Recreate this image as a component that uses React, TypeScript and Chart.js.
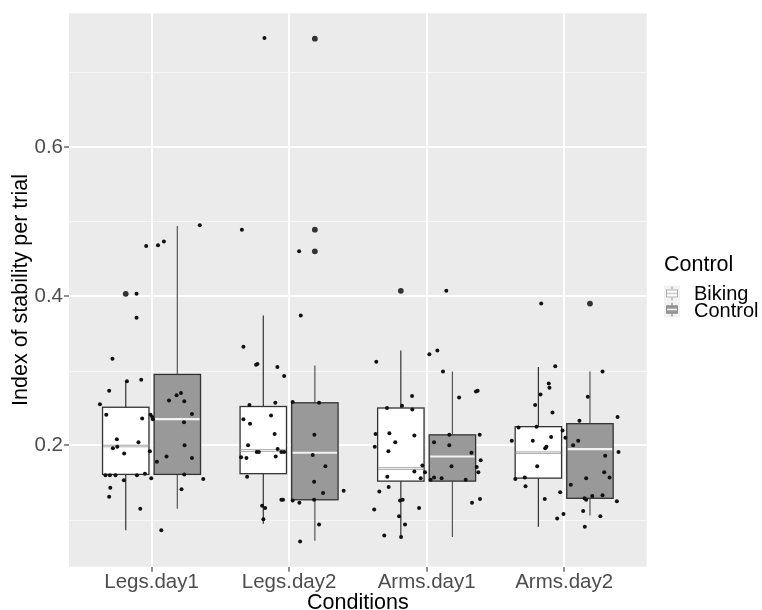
import React, { useEffect, useRef } from "react";
import { Chart, registerables } from "chart.js";

Chart.register(...registerables);

// ---------- data ----------
const conditions = ["Legs.day1", "Legs.day2", "Arms.day1", "Arms.day2"];
const groups = ["Biking", "Control"];
const yTickValues = [0.2, 0.4, 0.6];
const yTickLabels = ["0.2", "0.4", "0.6"];
const yMinorValues = [0.1, 0.3, 0.5, 0.7];

// box statistics, indexed by condition
const bikingLowerWhisker = [0.086, 0.095, 0.077, 0.091];
const bikingQ1 = [0.161, 0.162, 0.152, 0.156];
const bikingMedian = [0.199, 0.193, 0.169, 0.190];
const bikingQ3 = [0.251, 0.252, 0.250, 0.225];
const bikingUpperWhisker = [0.286, 0.374, 0.327, 0.305];
const bikingOutliers = [[0.403], [], [0.407], []];

const controlLowerWhisker = [0.115, 0.072, 0.077, 0.106];
const controlQ1 = [0.161, 0.127, 0.152, 0.129];
const controlMedian = [0.235, 0.190, 0.185, 0.195];
const controlQ3 = [0.295, 0.257, 0.214, 0.229];
const controlUpperWhisker = [0.494, 0.307, 0.299, 0.299];
const controlOutliers = [[], [0.460, 0.489, 0.745], [], [0.390]];

// jittered observations (horizontal jitter in category units, value)
const legsDay1Jitter = [-0.039, 0.047, 0.090, 0.351, -0.109, -0.109, -0.284, -0.179, -0.075, -0.308, -0.375, -0.329, -0.068, -0.252, -0.095, -0.249, -0.281, -0.199, -0.012, 0.182, 0.214, 0.127, 0.238, 0.294, -0.007, 0.005, 0.010, 0.236, 0.240, 0.109, 0.294, 0.039, -0.335, -0.303, -0.262, -0.106, -0.048, -0.201, -0.002, -0.300, -0.308, -0.082, 0.238, 0.376, 0.218, 0.071];
const legsDay1Values = [0.467, 0.468, 0.473, 0.495, 0.403, 0.371, 0.316, 0.286, 0.288, 0.273, 0.255, 0.241, 0.236, 0.208, 0.204, 0.198, 0.196, 0.189, 0.192, 0.267, 0.270, 0.260, 0.259, 0.242, 0.241, 0.238, 0.235, 0.231, 0.200, 0.185, 0.183, 0.178, 0.160, 0.160, 0.160, 0.160, 0.162, 0.153, 0.156, 0.143, 0.131, 0.115, 0.161, 0.155, 0.141, 0.086];

const legsDay2Jitter = [-0.179, -0.343, 0.073, 0.085, -0.332, -0.230, -0.240, -0.085, -0.036, 0.026, -0.100, -0.288, 0.218, -0.131, -0.332, -0.284, -0.105, 0.184, -0.298, -0.083, -0.235, -0.220, -0.056, -0.036, -0.349, -0.310, -0.097, 0.172, 0.264, -0.305, 0.182, 0.247, 0.397, -0.056, -0.044, 0.026, 0.075, 0.182, -0.196, -0.174, -0.187, 0.218, 0.080];
const legsDay2Values = [0.746, 0.489, 0.460, 0.374, 0.332, 0.309, 0.308, 0.305, 0.293, 0.258, 0.257, 0.254, 0.257, 0.240, 0.235, 0.229, 0.215, 0.214, 0.200, 0.195, 0.191, 0.191, 0.191, 0.191, 0.184, 0.183, 0.185, 0.187, 0.172, 0.158, 0.151, 0.136, 0.139, 0.127, 0.127, 0.126, 0.123, 0.127, 0.119, 0.116, 0.101, 0.094, 0.071];

const armsDay1Jitter = [0.143, -0.366, 0.020, 0.078, 0.119, -0.106, 0.236, 0.359, 0.371, -0.288, -0.179, -0.104, -0.371, -0.271, -0.089, -0.228, -0.377, -0.278, 0.054, 0.165, 0.165, 0.386, 0.326, 0.393, 0.181, 0.364, 0.376, -0.031, -0.012, -0.089, -0.043, 0.029, 0.054, 0.109, 0.284, -0.286, -0.344, -0.276, -0.193, -0.174, -0.381, -0.055, -0.200, -0.157, -0.308, -0.186, 0.330, 0.388];
const armsDay1Values = [0.407, 0.312, 0.322, 0.327, 0.299, 0.266, 0.264, 0.272, 0.273, 0.250, 0.253, 0.248, 0.215, 0.216, 0.213, 0.204, 0.198, 0.192, 0.204, 0.214, 0.200, 0.214, 0.190, 0.180, 0.172, 0.171, 0.164, 0.173, 0.164, 0.165, 0.156, 0.154, 0.157, 0.156, 0.154, 0.158, 0.138, 0.144, 0.126, 0.127, 0.114, 0.116, 0.105, 0.094, 0.079, 0.077, 0.123, 0.128];

const armsDay2Jitter = [-0.167, -0.065, 0.279, -0.112, -0.107, -0.172, 0.172, -0.211, -0.085, 0.388, 0.111, -0.332, -0.201, -0.012, -0.381, -0.228, -0.095, 0.009, 0.102, 0.065, -0.129, -0.138, 0.395, 0.298, -0.196, 0.291, 0.330, 0.160, -0.355, -0.286, -0.281, 0.048, -0.029, -0.141, 0.148, 0.160, 0.204, 0.279, 0.383, 0.138, -0.005, -0.051, 0.263, 0.150];
const armsDay2Values = [0.390, 0.306, 0.299, 0.283, 0.277, 0.268, 0.265, 0.254, 0.244, 0.238, 0.233, 0.224, 0.225, 0.220, 0.206, 0.206, 0.211, 0.210, 0.206, 0.200, 0.198, 0.196, 0.191, 0.186, 0.172, 0.164, 0.157, 0.156, 0.155, 0.157, 0.145, 0.147, 0.137, 0.128, 0.129, 0.127, 0.132, 0.133, 0.125, 0.112, 0.108, 0.102, 0.105, 0.091];

const jitterByCondition = [legsDay1Jitter, legsDay2Jitter, armsDay1Jitter, armsDay2Jitter];
const valuesByCondition = [legsDay1Values, legsDay2Values, armsDay1Values, armsDay2Values];

// ---------- styling ----------
const FONT = "'Liberation Sans', Arial, Helvetica, sans-serif";
const PANEL_BG = "#ebebeb";
const GROUP_OFFSET = 0.1875;
const BOX_HALF = 0.1687;
const groupFill = ["#ffffff", "#999999"];

const boxStats = [
  {
    lower: bikingLowerWhisker, q1: bikingQ1, med: bikingMedian, q3: bikingQ3,
    upper: bikingUpperWhisker, out: bikingOutliers,
  },
  {
    lower: controlLowerWhisker, q1: controlQ1, med: controlMedian, q3: controlQ3,
    upper: controlUpperWhisker, out: controlOutliers,
  },
];

const ggPlugin = {
  id: "ggdecor",
  beforeDraw(chart: any) {
    const { ctx, chartArea: a, scales } = chart;
    ctx.save();
    ctx.fillStyle = PANEL_BG;
    ctx.fillRect(a.left, a.top, a.right - a.left, a.bottom - a.top);
    ctx.strokeStyle = "#f7f7f7";
    ctx.lineWidth = 1;
    for (const v of yMinorValues) {
      const y = Math.round(scales.y.getPixelForValue(v)) + 0.5;
      ctx.beginPath();
      ctx.moveTo(a.left, y);
      ctx.lineTo(a.right, y);
      ctx.stroke();
    }
    ctx.restore();
  },
  beforeDatasetsDraw(chart: any) {
    const { ctx, chartArea: a, scales } = chart;
    const xs = scales.x, ys = scales.y;
    ctx.save();
    ctx.beginPath();
    ctx.rect(a.left, a.top, a.right - a.left, a.bottom - a.top);
    ctx.clip();
    conditions.forEach((_, i) => {
      boxStats.forEach((s, g) => {
        const c = i + 1 + (g === 0 ? -GROUP_OFFSET : GROUP_OFFSET);
        const xc = xs.getPixelForValue(c);
        const xl = xs.getPixelForValue(c - BOX_HALF);
        const xr = xs.getPixelForValue(c + BOX_HALF);
        const yq1 = ys.getPixelForValue(s.q1[i]);
        const yq3 = ys.getPixelForValue(s.q3[i]);
        const ymed = ys.getPixelForValue(s.med[i]);
        const ylo = ys.getPixelForValue(s.lower[i]);
        const yhi = ys.getPixelForValue(s.upper[i]);
        // whiskers
        ctx.strokeStyle = g === 0 ? "#333333" : "#555555";
        ctx.lineWidth = 1.2;
        ctx.beginPath();
        ctx.moveTo(xc, yq3);
        ctx.lineTo(xc, yhi);
        ctx.moveTo(xc, yq1);
        ctx.lineTo(xc, ylo);
        ctx.stroke();
        // box
        ctx.fillStyle = groupFill[g];
        ctx.fillRect(xl, yq3, xr - xl, yq1 - yq3);
        ctx.strokeStyle = "#333333";
        ctx.lineWidth = 1.3;
        ctx.strokeRect(xl, yq3, xr - xl, yq1 - yq3);
        // median
        if (g === 0) {
          ctx.strokeStyle = "#9a9a9a";
          ctx.lineWidth = 2.6;
          ctx.beginPath();
          ctx.moveTo(xl + 0.5, ymed);
          ctx.lineTo(xr - 0.5, ymed);
          ctx.stroke();
          ctx.strokeStyle = "#efefef";
          ctx.lineWidth = 1;
          ctx.beginPath();
          ctx.moveTo(xl + 1, ymed);
          ctx.lineTo(xr - 1, ymed);
          ctx.stroke();
        } else {
          ctx.strokeStyle = "#f2f2f2";
          ctx.lineWidth = 2.2;
          ctx.beginPath();
          ctx.moveTo(xl + 1, ymed);
          ctx.lineTo(xr - 1, ymed);
          ctx.stroke();
        }
        // outliers
        ctx.fillStyle = "#333333";
        for (const v of s.out[i]) {
          ctx.beginPath();
          ctx.arc(xc, ys.getPixelForValue(v), 2.9, 0, Math.PI * 2);
          ctx.fill();
        }
      });
    });
    ctx.restore();
  },
  afterDraw(chart: any) {
    const { ctx, chartArea: a } = chart;
    ctx.save();
    ctx.fillStyle = "#000000";
    ctx.font = `21.5px ${FONT}`;
    ctx.textBaseline = "alphabetic";
    // x title
    ctx.textAlign = "center";
    ctx.fillText("Conditions", (a.left + a.right) / 2, 609);
    // y title
    ctx.save();
    ctx.translate(26.5, (a.top + a.bottom) / 2);
    ctx.rotate(-Math.PI / 2);
    ctx.fillText("Index of stability per trial", 0, 0);
    ctx.restore();
    // legend
    ctx.textAlign = "left";
    ctx.fillText("Control", 664, 271);
    const keyX = 664, keySize = 16;
    const keyTops = [285.5, 301.5];
    const labelBaselines = [299.5, 316.5];
    ctx.font = `20px ${FONT}`;
    groups.forEach((label, g) => {
      const ky = keyTops[g];
      ctx.fillStyle = "#f2f2f2";
      ctx.fillRect(keyX, ky, keySize, keySize);
      const cx = keyX + keySize / 2;
      ctx.strokeStyle = g === 0 ? "#9a9a9a" : "#777777";
      ctx.lineWidth = 1;
      ctx.beginPath();
      ctx.moveTo(cx, ky + 1);
      ctx.lineTo(cx, ky + keySize - 1);
      ctx.stroke();
      ctx.fillStyle = groupFill[g];
      ctx.fillRect(keyX + 2, ky + 4, keySize - 4, keySize - 8);
      ctx.strokeStyle = g === 0 ? "#b0b0b0" : "#888888";
      ctx.strokeRect(keyX + 2.5, ky + 4.5, keySize - 5, keySize - 9);
      ctx.strokeStyle = g === 0 ? "#c8c8c8" : "#f2f2f2";
      ctx.lineWidth = 1.5;
      ctx.beginPath();
      ctx.moveTo(keyX + 3, ky + keySize / 2);
      ctx.lineTo(keyX + keySize - 3, ky + keySize / 2);
      ctx.stroke();
      ctx.fillStyle = "#000000";
      ctx.fillText(label, 694, labelBaselines[g]);
    });
    ctx.restore();
  },
};

export default function App() {
  const ref = useRef<HTMLCanvasElement>(null);
  useEffect(() => {
    document.body.style.margin = "0";
    const canvas = ref.current;
    if (!canvas) return;
    const points: { x: number; y: number }[] = [];
    conditions.forEach((_, i) => {
      valuesByCondition[i].forEach((v, j) => {
        points.push({ x: i + 1 + jitterByCondition[i][j], y: v });
      });
    });
    const chart = new Chart(canvas, {
      type: "scatter",
      data: {
        datasets: [
          {
            label: "observations",
            data: points,
            pointRadius: 2,
            pointHoverRadius: 2,
            backgroundColor: "#111111",
            borderWidth: 0,
          },
        ],
      },
      options: {
        animation: false,
        responsive: false,
        devicePixelRatio: 1,
        events: [],
        layout: { padding: { top: 12, right: 115.3, left: 0, bottom: 0 } },
        plugins: {
          legend: { display: false },
          tooltip: { enabled: false },
        },
        scales: {
          x: {
            type: "linear",
            min: 0.4,
            max: 4.6,
            afterBuildTicks: (s: any) => {
              s.ticks = conditions.map((_, i) => ({ value: i + 1 }));
            },
            afterFit: (s: any) => {
              s.height = 43.3;
            },
            ticks: {
              callback: (v: any) => conditions[Math.round(Number(v)) - 1] ?? "",
              color: "#4d4d4d",
              font: { family: FONT, size: 20.5 },
              padding: -2,
              maxRotation: 0,
              autoSkip: false,
            },
            grid: {
              color: "#ffffff",
              lineWidth: 2,
              tickColor: "#333333",
              tickLength: 5,
              tickWidth: 1.1,
            },
            border: { display: false },
          },
          y: {
            type: "linear",
            min: 0.0373,
            max: 0.779,
            afterBuildTicks: (s: any) => {
              s.ticks = yTickValues.map((v) => ({ value: v }));
            },
            afterFit: (s: any) => {
              s.width = 69;
            },
            ticks: {
              callback: (v: any) => {
                const k = yTickValues.findIndex((t) => Math.abs(t - Number(v)) < 1e-6);
                return k >= 0 ? yTickLabels[k] : "";
              },
              color: "#4d4d4d",
              font: { family: FONT, size: 20.5 },
              padding: 1,
              autoSkip: false,
            },
            grid: {
              color: "#ffffff",
              lineWidth: 2,
              tickColor: "#333333",
              tickLength: 5,
              tickWidth: 1.1,
            },
            border: { display: false },
          },
        },
      },
      plugins: [ggPlugin],
    });
    return () => chart.destroy();
  }, []);
  return (
    <canvas
      ref={ref}
      width={762}
      height={610}
      style={{ display: "block", width: 762, height: 610 }}
    />
  );
}
